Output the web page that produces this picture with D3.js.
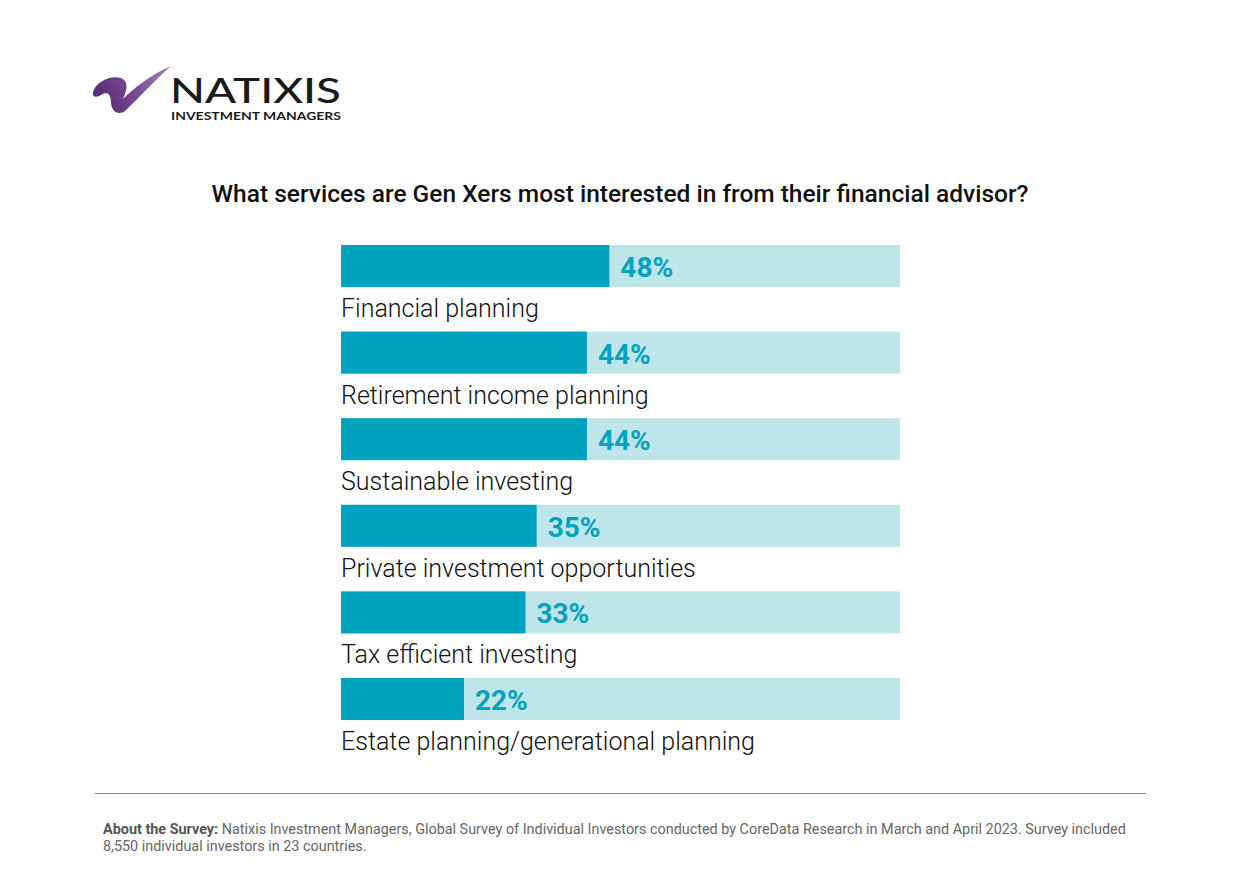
<!DOCTYPE html>
<html>
<head>
<meta charset="utf-8">
<script src="https://cdn.jsdelivr.net/npm/d3@7"></script>
<style>
  body { margin: 0; background: #fff; }
  svg { display: block; }
</style>
</head>
<body>
<svg width="1240" height="892"></svg>
<script>
const categories = [
  'Financial planning',
  'Retirement income planning',
  'Sustainable investing',
  'Private investment opportunities',
  'Tax efficient investing',
  'Estate planning/generational planning'
];
const values = [48, 44, 44, 35, 33, 22];
const valueLabels = ['48%', '44%', '44%', '35%', '33%', '22%'];

const title = 'What services are Gen Xers most interested in from their financial advisor?';
const footBold = 'About the Survey:';
const footLine1 = ' Natixis Investment Managers, Global Survey of Individual Investors conducted by CoreData Research in March and April 2023. Survey included';
const footLine2 = '8,550 individual investors in 23 countries.';

const dark = '#00a3bf';
const light = '#bde5ea';

const $svg = d3.select('svg');

const x = d3.scaleLinear().domain([0, 100]).range([341, 900]);
const y = d3
  .scaleBand()
  .domain(categories)
  .range([245, 720])
  .paddingInner(0.515)
  .paddingOuter(0);

// logo
const logo = $svg.append('g').attr('class', 'logo');
const grad = $svg.append('defs').append('linearGradient')
  .attr('id', 'swoosh')
  .attr('x1', '0%').attr('x2', '100%').attr('y1', '30%').attr('y2', '0%');
grad.append('stop').attr('offset', '0%').attr('stop-color', '#5a2f73');
grad.append('stop').attr('offset', '45%').attr('stop-color', '#7a4c98');
grad.append('stop').attr('offset', '100%').attr('stop-color', '#a384bd');

// brush stroke, drawn as a filled outline
const swoosh = d3.path();
swoosh.moveTo(93, 92);
swoosh.bezierCurveTo(96, 82, 110, 75, 121, 78);
swoosh.bezierCurveTo(129, 81, 127, 91, 123, 99);
swoosh.bezierCurveTo(133, 89, 150, 75, 171, 66);
swoosh.bezierCurveTo(155, 80, 136, 101, 125, 111);
swoosh.bezierCurveTo(118, 116, 111, 111, 111, 102);
swoosh.bezierCurveTo(111, 94, 107, 91, 101, 95);
swoosh.bezierCurveTo(96, 98, 92, 97, 93, 92);
swoosh.closePath();
logo.append('path')
  .attr('d', swoosh.toString())
  .attr('fill', 'url(#swoosh)');

logo.append('text')
  .attr('x', 170).attr('y', 103)
  .attr('font-family', 'Lato, sans-serif')
  .attr('font-size', 35)
  .attr('font-weight', 500)
  .attr('fill', '#1a1a1a')
  .attr('textLength', 171)
  .attr('lengthAdjust', 'spacingAndGlyphs')
  .text('NATIXIS');
logo.append('text')
  .attr('x', 171).attr('y', 120)
  .attr('font-family', 'Lato, sans-serif')
  .attr('font-size', 10.5)
  .attr('font-weight', 700)
  .attr('fill', '#1a1a1a')
  .attr('textLength', 170)
  .attr('lengthAdjust', 'spacingAndGlyphs')
  .text('INVESTMENT MANAGERS');

// title
$svg.append('text')
  .attr('x', 620).attr('y', 202)
  .attr('text-anchor', 'middle')
  .attr('font-family', 'Roboto, sans-serif')
  .attr('font-size', 24.5)
  .attr('font-weight', 500)
  .attr('fill', '#111')
  .text(title);

// bars
const rows = $svg.selectAll('.row')
  .data(categories)
  .join('g')
  .attr('class', 'row');

rows.append('rect')
  .attr('x', x(0))
  .attr('y', d => y(d))
  .attr('width', x(100) - x(0))
  .attr('height', y.bandwidth())
  .attr('fill', light);

rows.append('rect')
  .attr('x', x(0))
  .attr('y', d => y(d))
  .attr('width', (d, i) => x(values[i]) - x(0))
  .attr('height', y.bandwidth())
  .attr('fill', dark);

rows.append('text')
  .attr('x', (d, i) => x(values[i]) + 11)
  .attr('y', d => y(d) + y.bandwidth() / 2 + 11)
  .attr('font-family', 'Roboto, sans-serif')
  .attr('font-size', 28)
  .attr('font-weight', 700)
  .attr('fill', dark)
  .text((d, i) => valueLabels[i]);

rows.append('text')
  .attr('x', x(0))
  .attr('y', d => y(d) + y.bandwidth() + 30)
  .attr('font-family', 'Roboto, sans-serif')
  .attr('font-size', 25)
  .attr('font-weight', 300)
  .attr('fill', '#111')
  .text(d => d);

// rule
$svg.append('line')
  .attr('x1', 95).attr('x2', 1146)
  .attr('y1', 793.5).attr('y2', 793.5)
  .attr('stroke', '#8c8c8c')
  .attr('stroke-width', 1.2);

// footer (condensed look by horizontal scaling)
const foot = $svg.append('g');
const l1 = foot.append('text')
  .attr('font-family', 'Roboto, sans-serif')
  .attr('font-size', 15)
  .attr('fill', '#666');
l1.append('tspan').attr('font-weight', 700).attr('fill', '#555').text(footBold);
l1.append('tspan').text(footLine1);
const l2 = foot.append('text')
  .attr('y', 17.5)
  .attr('font-family', 'Roboto, sans-serif')
  .attr('font-size', 15)
  .attr('fill', '#666')
  .text(footLine2);
const w1 = l1.node().getComputedTextLength();
const sx = 1024 / w1;
foot.attr('transform', `translate(103,834) scale(${sx},1)`);
</script>
</body>
</html>
